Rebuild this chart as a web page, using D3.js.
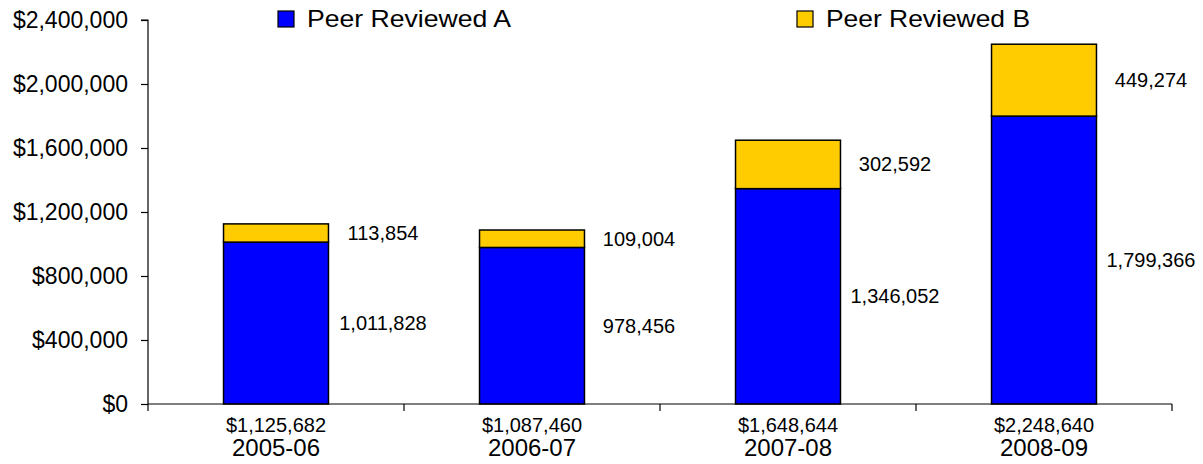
<!DOCTYPE html>
<html>
<head>
<meta charset="utf-8">
<script src="https://cdn.jsdelivr.net/npm/d3@7"></script>
<style>
  html, body { margin: 0; padding: 0; background: #fff; }
  svg { display: block; font-family: "Liberation Sans", Arial, sans-serif; }
</style>
</head>
<body>
<svg id="chart" width="1203" height="464"></svg>
<script>
const categories = ["2005-06", "2006-07", "2007-08", "2008-09"];
const peerA = [1011828, 978456, 1346052, 1799366];
const peerB = [113854, 109004, 302592, 449274];
const totals = [1125682, 1087460, 1648644, 2248640];
const seriesNames = ["Peer Reviewed A", "Peer Reviewed B"];
const yTicks = [0, 400000, 800000, 1200000, 1600000, 2000000, 2400000];

const colors = ["#0000FF", "#FFCC00"];
const svg = d3.select("#chart");
const plotLeft = 148, plotRight = 1172, plotTop = 20, plotBottom = 404;

const x = d3.scaleBand().domain(categories).range([plotLeft, plotRight]).paddingInner(0).paddingOuter(0);
const y = d3.scaleLinear().domain([0, 2400000]).range([plotBottom, plotTop]);

const rows = categories.map((c, i) => ({ cat: c, A: peerA[i], B: peerB[i], total: totals[i] }));
const stacked = d3.stack().keys(["A", "B"])(rows);

// Y axis
const yAxis = d3.axisLeft(y).tickValues(yTicks).tickSize(7).tickPadding(13)
  .tickFormat(d => "$" + d3.format(",")(d));
const gy = svg.append("g").attr("transform", `translate(${plotLeft},0)`).call(yAxis);
gy.selectAll("text").style("font-size", "23px").style("font-family", "'Liberation Sans', Arial, sans-serif").attr("fill", "#000");
gy.selectAll("line, path").attr("stroke", "#000").attr("stroke-width", 1.2);
gy.select(".domain").attr("d", `M-7,${plotTop}H0V${plotBottom}`);

// Bars
const barW = x.bandwidth() * 0.41;
const layers = svg.append("g").selectAll("g").data(stacked).join("g")
  .attr("fill", (d, i) => colors[i]);
layers.selectAll("rect").data(d => d).join("rect")
  .attr("x", d => x(d.data.cat) + x.bandwidth() / 2 - barW / 2)
  .attr("width", barW)
  .attr("y", d => y(d[1]))
  .attr("height", d => y(d[0]) - y(d[1]))
  .attr("stroke", "#000").attr("stroke-width", 1.5);

// X axis
svg.append("line").attr("x1", plotLeft).attr("x2", plotRight).attr("y1", plotBottom).attr("y2", plotBottom)
  .attr("stroke", "#000").attr("stroke-width", 1.2);
const boundaries = categories.map(c => x(c)).concat([plotRight]);
svg.append("g").selectAll("line").data(boundaries).join("line")
  .attr("x1", d => d).attr("x2", d => d).attr("y1", plotBottom).attr("y2", plotBottom + 7)
  .attr("stroke", "#000").attr("stroke-width", 1.2);

// Category totals and labels
svg.append("g").selectAll("text").data(rows).join("text")
  .attr("x", d => x(d.cat) + x.bandwidth() / 2)
  .attr("y", 432)
  .attr("text-anchor", "middle").style("font-size", "20px")
  .text(d => "$" + d3.format(",")(d.total));
svg.append("g").selectAll("text").data(rows).join("text")
  .attr("x", d => x(d.cat) + x.bandwidth() / 2)
  .attr("y", 456)
  .attr("text-anchor", "middle").style("font-size", "24px")
  .text(d => d.cat);

// Data labels
const labelG = svg.append("g");
stacked.forEach(layer => {
  labelG.selectAll(null).data(layer).join("text")
    .attr("x", d => x(d.data.cat) + x.bandwidth() / 2 + 107)
    .attr("y", d => (y(d[0]) + y(d[1])) / 2)
    .attr("dy", "0.35em")
    .attr("text-anchor", "middle").style("font-size", "20px")
    .text(d => d3.format(",")(d[1] - d[0]));
});

// Legend
const legendX = [278, 797];
const lg = svg.append("g").selectAll("g").data(seriesNames).join("g")
  .attr("transform", (d, i) => `translate(${legendX[i]},0)`);
lg.append("rect").attr("x", 0).attr("y", 11).attr("width", 16).attr("height", 16)
  .attr("fill", (d, i) => colors[i]).attr("stroke", "#000").attr("stroke-width", 1.2);
lg.append("text").attr("x", 29).attr("y", 27).style("font-size", "24px")
  .attr("textLength", 204).attr("lengthAdjust", "spacingAndGlyphs")
  .text(d => d);
</script>
</body>
</html>
